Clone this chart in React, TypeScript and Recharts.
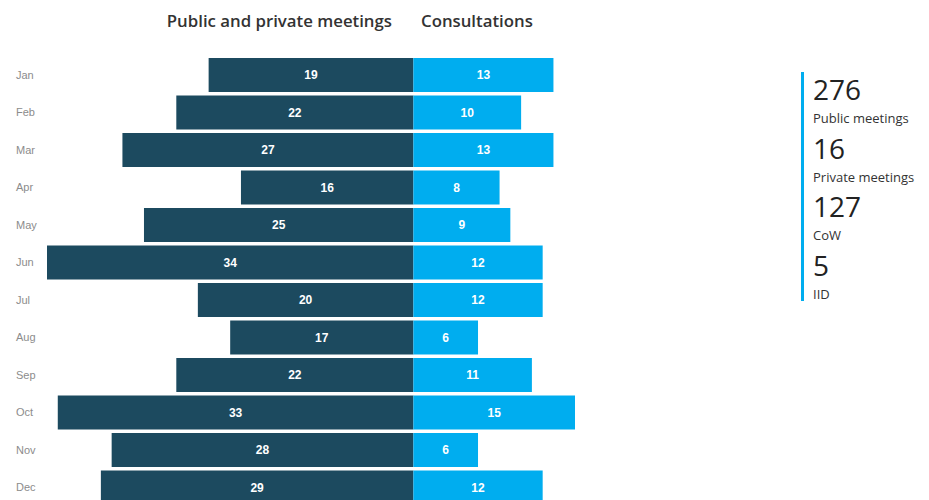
import React from 'react';
import { BarChart, Bar, XAxis, YAxis, LabelList } from 'recharts';

// months down the side
const months = ['Jan', 'Feb', 'Mar', 'Apr', 'May', 'Jun', 'Jul', 'Aug', 'Sep', 'Oct', 'Nov', 'Dec'];
// public and private meetings (drawn to the left)
const meetings = [19, 22, 27, 16, 25, 34, 20, 17, 22, 33, 28, 29];
// consultations (drawn to the right)
const consultations = [13, 10, 13, 8, 9, 12, 12, 6, 11, 15, 6, 12];

// totals panel on the right
const totalValues = ['276', '16', '127', '5'];
const totalLabels = ['Public meetings', 'Private meetings', 'CoW', 'IID'];

const DARK = '#1c4a5f';
const LIGHT = '#00adef';

const data = months.map((m, i) => ({
  month: m,
  meetings: -meetings[i],
  consultations: consultations[i],
}));

const MonthTick = (props: any) => {
  const { y, payload } = props;
  return (
    <text x={16} y={y} dy={4} fill="#8c8c8c" fontSize={11} fontFamily="'Liberation Sans', Arial, sans-serif">
      {payload.value}
    </text>
  );
};

const labelStyle = {
  fill: '#ffffff',
  fontSize: 12,
  fontWeight: 700,
  fontFamily: "'Liberation Sans', Arial, sans-serif",
};

export default function App() {
  return (
    <div
      style={{
        position: 'absolute',
        left: 0,
        top: 0,
        width: 929,
        height: 500,
        overflow: 'hidden',
        background: '#fff',
      }}
    >
      <svg width={929} height={40} style={{ position: 'absolute', left: 0, top: 0 }}>
        <text
          x={392}
          y={27}
          textAnchor="end"
          fill="#333"
          fontSize={16.8}
          fontWeight={600}
          fontFamily="'Open Sans', sans-serif"
        >
          Public and private meetings
        </text>
        <text x={421} y={27} fill="#333" fontSize={16.8} fontWeight={600} fontFamily="'Open Sans', sans-serif">
          Consultations
        </text>
      </svg>

      <div style={{ position: 'absolute', left: 0, top: 0 }}>
        <BarChart
          width={600}
          height={506}
          data={data}
          layout="vertical"
          stackOffset="sign"
          barCategoryGap={2}
          margin={{ top: 56, right: 25, bottom: 0, left: 0 }}
        >
          <XAxis type="number" domain={[-34, 15]} allowDataOverflow hide />
          <YAxis
            type="category"
            dataKey="month"
            width={47}
            axisLine={false}
            tickLine={false}
            tick={<MonthTick />}
            interval={0}
          />
          <Bar dataKey="meetings" stackId="a" fill={DARK} isAnimationActive={false}>
            <LabelList
              dataKey="meetings"
              position="center"
              formatter={(v: any) => Math.abs(v)}
              style={labelStyle}
            />
          </Bar>
          <Bar dataKey="consultations" stackId="a" fill={LIGHT} isAnimationActive={false}>
            <LabelList dataKey="consultations" position="center" style={labelStyle} />
          </Bar>
        </BarChart>
      </div>

      <div
        style={{
          position: 'absolute',
          left: 801,
          top: 72,
          width: 3,
          height: 229,
          background: LIGHT,
        }}
      />
      {totalValues.map((v, i) => (
        <React.Fragment key={i}>
          <div
            style={{
              position: 'absolute',
              left: 813,
              top: 75 + i * 58.5,
              fontFamily: "'Open Sans', sans-serif",
              fontSize: 28,
              lineHeight: '28px',
              color: '#222',
            }}
          >
            {v}
          </div>
          <div
            style={{
              position: 'absolute',
              left: 813,
              top: 111 + i * 58.5,
              fontFamily: "'Open Sans', sans-serif",
              fontSize: 13,
              lineHeight: '14px',
              color: '#333',
              whiteSpace: 'nowrap',
            }}
          >
            {totalLabels[i]}
          </div>
        </React.Fragment>
      ))}
    </div>
  );
}
